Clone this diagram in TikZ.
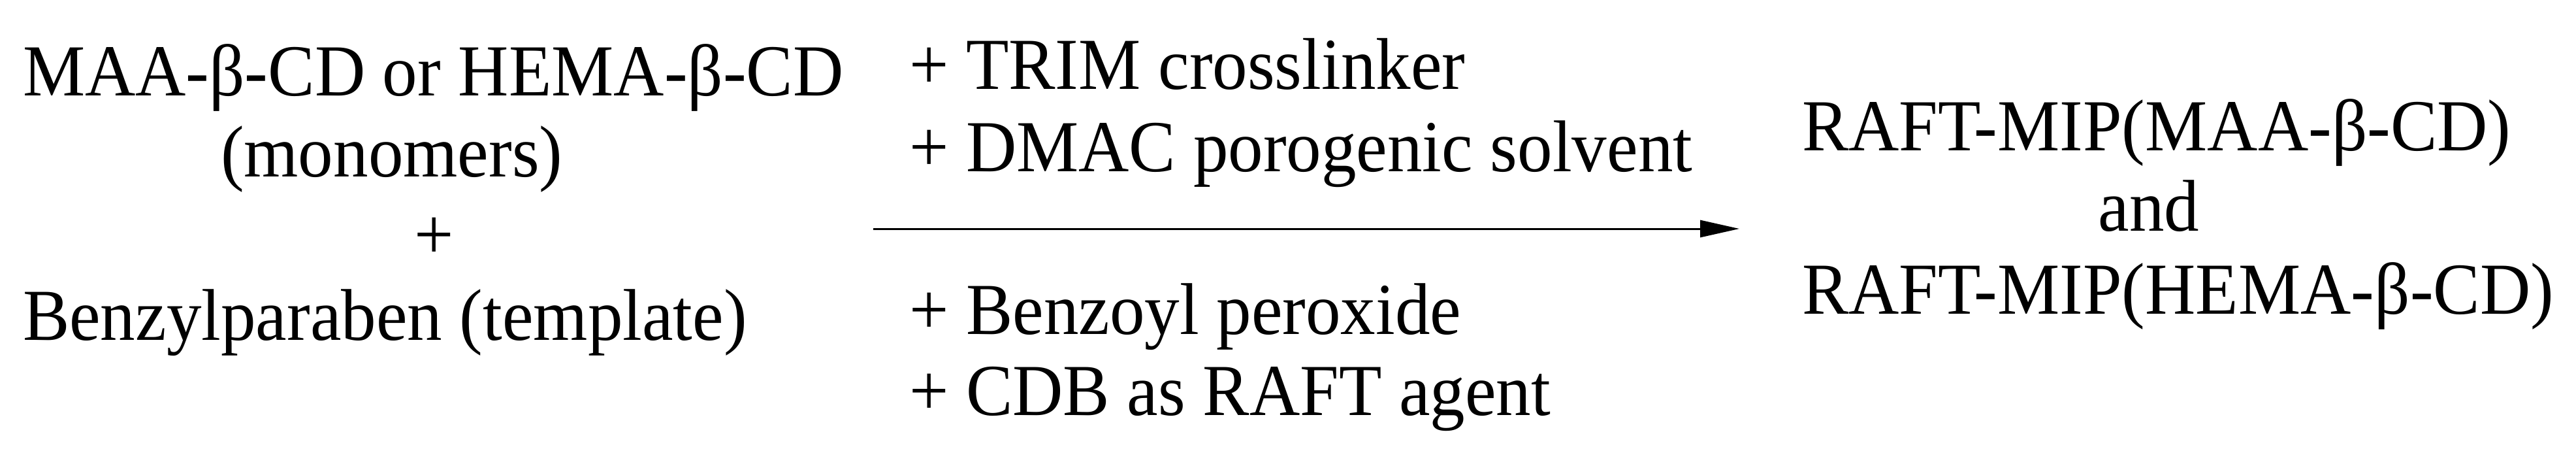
\documentclass[tikz,border=0pt]{standalone}
\usepackage{fontspec}
\newfontfamily\rxnfont{Liberation Serif}[FakeStretch=0.955]
\usetikzlibrary{arrows.meta}

\begin{document}
\begin{tikzpicture}
[-,%
  every node/.style={inner sep=0pt,outer sep=0pt,font=\rxnfont\fontsize{31.9}{38}\selectfont},%
  rxnarrow/.style={line width=0.85pt,-{Triangle[length=6mm,width=2.6mm]}}]
\useasboundingbox (0,0) rectangle (39.44,6.86);
% reactants
\node[anchor=base west] (monoA) at (0.35,5.40) {MAA-β-CD or HEMA-β-CD};
\node[anchor=base west] (monoB) at (3.38,4.16) {(monomers)};
\node[anchor=base] (plusL) at (6.65,2.90) {+};
\node[anchor=base west] (templ) at (0.35,1.66) {Benzylparaben (template)};
% reagents above and below the arrow
\node[anchor=base west] (trim) at (13.92,5.50) {+ TRIM crosslinker};
\node[anchor=base west] (dmac) at (13.92,4.24) {+ DMAC porogenic solvent};
\node[anchor=base west] (bpo) at (13.92,1.75) {+ Benzoyl peroxide};
\node[anchor=base west] (cdb) at (13.92,0.51) {+ CDB as RAFT agent};
% products
\node[anchor=base west] (mipA) at (27.59,4.56) {RAFT-MIP(MAA-β-CD)};
\node[anchor=base] (andw) at (32.90,3.33) {and};
\node[anchor=base west] (mipB) at (27.59,2.06) {RAFT-MIP(HEMA-β-CD)};
% arrow
\coordinate (rxnstart) at (13.37,3.36);
\coordinate (rxnend) at (26.63,3.36);
\draw[rxnarrow] (rxnstart) -- (rxnend);
\end{tikzpicture}
\end{document}
